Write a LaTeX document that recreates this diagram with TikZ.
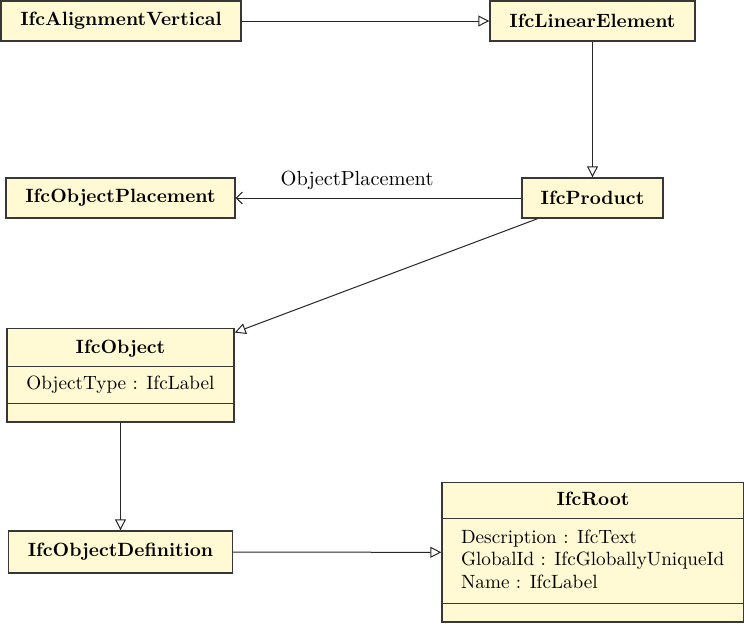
\documentclass[tikz,border=0pt]{standalone}
\usetikzlibrary{arrows.meta,shapes.multipart}
\definecolor{classfill}{RGB}{255,250,212}
\definecolor{classline}{RGB}{55,55,55}
\newcommand{\umlsize}{\fontsize{9.6pt}{11.5pt}\selectfont}

\begin{document}
\begin{tikzpicture}[x=0.5pt,y=-0.5pt,font=\umlsize]

    \tikzset{
      classbox/.style={
        draw=classline,
        line width=0.7pt,
        fill=classfill,
        inner sep=0pt,
        minimum height=20pt,
        font=\umlsize\bfseries,
      },
      classsplit/.style={
        draw=classline,
        line width=0.7pt,
        fill=classfill,
        rectangle split,
        rectangle split parts=3,
        inner xsep=9.5pt,
        inner ysep=0pt,
      },
      inherit/.style={draw=black!85, line width=0.5pt, -{Triangle[open,length=5.5pt,width=5.5pt]}},
      assoc/.style={draw=black!85, line width=0.5pt, -{Straight Barb[length=3pt,width=6pt]}},
    }
    \useasboundingbox (0,0) rectangle (744,623);

    \node[classbox, minimum width=120pt] (alignvert) at (121,21) {IfcAlignmentVertical};
    \node[classbox, minimum width=102.5pt] (linear) at (592.5,21) {IfcLinearElement};
    \node[classbox, minimum width=114.5pt] (placement) at (120.5,198) {IfcObjectPlacement};
    \node[classbox, minimum width=70.5pt] (product) at (592.5,198) {IfcProduct};
    \node[classsplit, minimum width=113.5pt, anchor=north] (object) at (120.5,328)
      {\textbf{IfcObject}\rule[-6.1pt]{0pt}{18.2pt}%
       \nodepart{two}ObjectType : IfcLabel\rule[-6.6pt]{0pt}{17.7pt}%
       \nodepart{three}\rule{0pt}{8.7pt}};
    \node[classbox, minimum width=112pt, minimum height=21pt] (objdef) at (120.5,552) {IfcObjectDefinition};
    \node[classsplit, minimum width=151pt, anchor=north,
          rectangle split part align={center,left,center}] (root) at (593,482)
      {\textbf{IfcRoot}\rule[-6.1pt]{0pt}{17.2pt}%
       \nodepart{two}\renewcommand{\arraystretch}{0.98}%
       \begin{tabular}{@{}l@{}}
         \rule{0pt}{12.1pt}Description : IfcText\\
         GlobalId : IfcGloballyUniqueId\\
         Name : IfcLabel\rule[-7.1pt]{0pt}{7.1pt}
       \end{tabular}%
       \nodepart{three}\rule{0pt}{8.7pt}};

    % connectors
    \draw[inherit] (alignvert) -- (linear);
    \draw[inherit] (linear) -- (product);
    \draw[assoc] (product) -- node[pos=0.575, above, inner sep=4pt, font=\fontsize{10.2pt}{12pt}\selectfont] {ObjectPlacement} (placement);
    \draw[inherit] (product) -- (object);
    \draw[inherit] (object) -- (objdef);
    \draw[inherit] (objdef) -- (root);

\end{tikzpicture}
\end{document}
